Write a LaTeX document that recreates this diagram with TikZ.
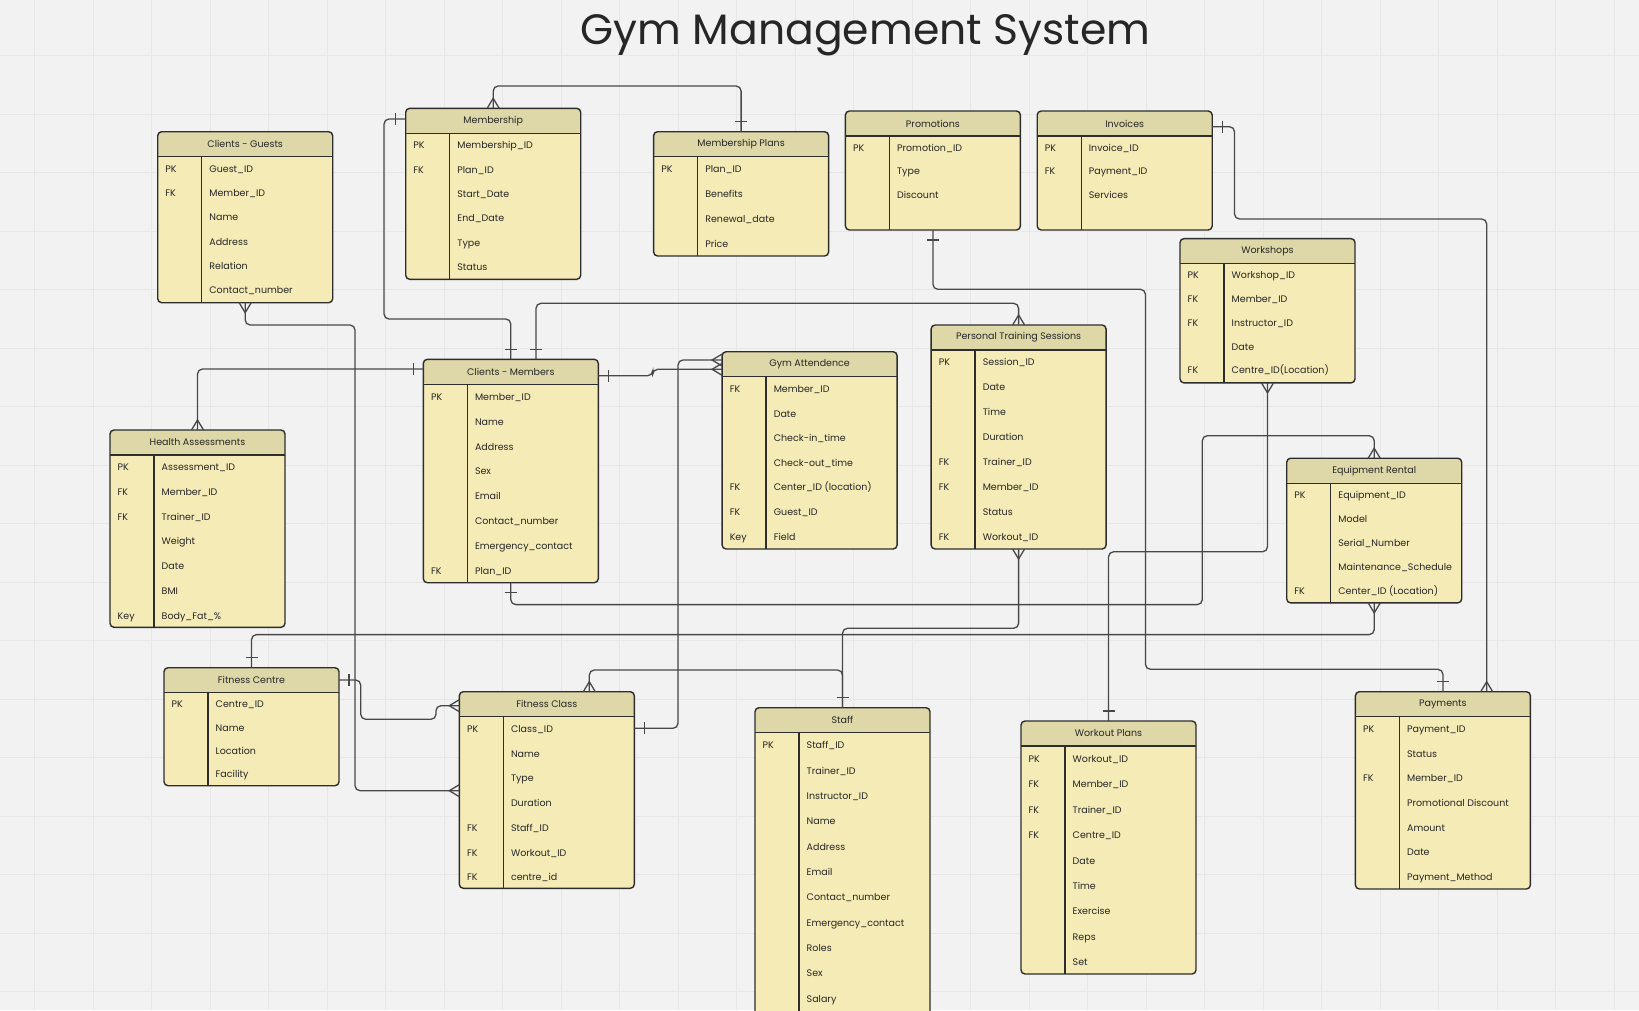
\documentclass[tikz,border=0pt]{standalone}
\usepackage{fontspec}
\setmainfont{Poppins}
\usetikzlibrary{calc}

\definecolor{bgc}{RGB}{242,242,242}
\definecolor{gridc}{RGB}{231,231,231}
\definecolor{headc}{RGB}{222,215,167}
\definecolor{bodyc}{RGB}{245,235,183}
\definecolor{edgec}{RGB}{45,45,45}
\definecolor{linkc}{RGB}{72,72,72}
\definecolor{inkc}{RGB}{38,38,38}

\tikzset{
  tablebox/.style={draw=edgec, line width=1.4pt, fill=bodyc, rounded corners=4pt,
    minimum width=175pt, inner sep=0pt, outer sep=0pt,
    path picture={\fill[headc] (path picture bounding box.north west)
      rectangle ([yshift=-25pt]path picture bounding box.north east);}},
  tablerule/.style={draw=edgec, line width=1.4pt},
  titletext/.style={font=\fontsize{9.5}{11}\selectfont, text=inkc, inner sep=0pt},
  keytext/.style={font=\fontsize{9.5}{11}\selectfont, text=inkc, anchor=base west, inner sep=0pt},
  fieldtext/.style={font=\fontsize{9.5}{11}\selectfont, text=inkc, anchor=base west, inner sep=0pt},
  linkline/.style={draw=linkc, line width=1.3pt, rounded corners=5pt},
  onebar/.pic={\draw[linkc, line width=1.3pt] (10,-6) -- (10,6);},
  crowfoot/.pic={\draw[linkc, line width=1.3pt] (0,-6) -- (10,0) -- (0,6);},
}

% one table: name, left, top, height, row step, title, key/field rows
\newcommand{\ertable}[7]{%
  \node[tablebox, minimum height=#4pt, anchor=north west] (#1) at (#2,#3) {};
  \draw[tablerule] ([yshift=-25pt]#1.north west) -- ([yshift=-25pt]#1.north east);
  \draw[tablerule] ([xshift=44pt,yshift=-25pt]#1.north west) -- ([xshift=44pt]#1.south west);
  \node[titletext] at ([yshift=-12.5pt]#1.north) {#6};
  \foreach \k/\f [count=\i] in {#7}
    {\node[keytext] at ([xshift=7.5pt,yshift={-28.5pt-(\i-0.5)*#5pt}]#1.north west) {\k};
     \node[fieldtext] at ([xshift=51.5pt,yshift={-28.5pt-(\i-0.5)*#5pt}]#1.north west) {\f};}
}

\begin{document}
\begin{tikzpicture}[x=1pt, y=-1pt]
  \useasboundingbox (0,0) rectangle (1639,1010);
  \clip (0,0) rectangle (1639,1010);

  % Background grid
  \fill[bgc] (0,0) rectangle (1639,1010);
  \foreach \gx in {0,...,28}
    \draw[gridc, line width=1pt] ({34.5+58.5*\gx},0) -- ({34.5+58.5*\gx},1010);
  \foreach \gy in {0,...,17}
    \draw[gridc, line width=1pt] (0,{55.8+58.5*\gy}) -- (1639,{55.8+58.5*\gy});

  % Title
  \node[font=\fontsize{42.5}{48}\selectfont, text=inkc, anchor=base] (title) at (865.5,44.5) {Gym Management System};

  % Tables
  \ertable{cg}{157.7}{131.7}{171}{24.3}{Clients - Guests}
    {PK/Guest\_ID, FK/Member\_ID, {}/Name, {}/Address, {}/Relation, {}/Contact\_number}
  \ertable{ms}{405.7}{108.3}{171}{24.3}{Membership}
    {PK/Membership\_ID, FK/Plan\_ID, {}/Start\_Date, {}/End\_Date, {}/Type, {}/Status}
  \ertable{mp}{653.6}{131.7}{124.3}{24.9}{Membership Plans}
    {PK/Plan\_ID, {}/Benefits, {}/Renewal\_date, {}/Price}
  \ertable{pr}{845.4}{111}{119}{23.5}{Promotions}
    {PK/Promotion\_ID, {}/Type, {}/Discount}
  \ertable{in}{1037.2}{111}{119}{23.5}{Invoices}
    {PK/Invoice\_ID, FK/Payment\_ID, {}/Services}
  \ertable{ws}{1180}{238.6}{144.3}{23.75}{Workshops}
    {PK/Workshop\_ID, FK/Member\_ID, FK/Instructor\_ID, {}/Date, FK/Centre\_ID(Location)}
  \ertable{er}{1286.7}{458.2}{144.7}{23.85}{Equipment Rental}
    {PK/Equipment\_ID, {}/Model, {}/Serial\_Number, {}/Maintenance\_Schedule, FK/Center\_ID (Location)}
  \ertable{cm}{423.3}{359.3}{223.4}{24.9}{Clients - Members}
    {PK/Member\_ID, {}/Name, {}/Address, {}/Sex, {}/Email, {}/Contact\_number, {}/Emergency\_contact, FK/Plan\_ID}
  \ertable{ha}{110}{430}{197.3}{24.7}{Health Assessments}
    {PK/Assessment\_ID, FK/Member\_ID, FK/Trainer\_ID, {}/Weight, {}/Date, {}/BMI, Key/Body\_Fat\_\%}
  \ertable{fc}{164}{667.7}{118}{23.3}{Fitness Centre}
    {PK/Centre\_ID, {}/Name, {}/Location, {}/Facility}
  \ertable{fcl}{459.3}{691.7}{196.6}{24.7}{Fitness Class}
    {PK/Class\_ID, {}/Name, {}/Type, {}/Duration, FK/Staff\_ID, FK/Workout\_ID, FK/centre\_id}
  \ertable{ga}{722.1}{351.7}{197.3}{24.6}{Gym Attendence}
    {FK/Member\_ID, {}/Date, {}/Check-in\_time, {}/Check-out\_time, FK/Center\_ID (location), FK/Guest\_ID, Key/Field}
  \ertable{pts}{931.1}{325}{224}{24.94}{Personal Training Sessions}
    {PK/Session\_ID, {}/Date, {}/Time, {}/Duration, FK/Trainer\_ID, FK/Member\_ID, {}/Status, FK/Workout\_ID}
  \ertable{st}{755}{707.7}{310}{25.33}{Staff}
    {PK/Staff\_ID, {}/Trainer\_ID, {}/Instructor\_ID, {}/Name, {}/Address, {}/Email, {}/Contact\_number, {}/Emergency\_contact, {}/Roles, {}/Sex, {}/Salary}
  \ertable{wp}{1021}{721}{253}{25.45}{Workout Plans}
    {PK/Workout\_ID, FK/Member\_ID, FK/Trainer\_ID, FK/Centre\_ID, {}/Date, {}/Time, {}/Exercise, {}/Reps, {}/Set}
  \ertable{py}{1355.4}{691.7}{197.3}{24.67}{Payments}
    {PK/Payment\_ID, {}/Status, FK/Member\_ID, {}/Promotional Discount, {}/Amount, {}/Date, {}/Payment\_Method}

  % Relationships
  \draw[linkline] (ms.north) -- ++(0,-22.3) -| (mp.north);
  \draw[linkline] ([yshift=-10.7pt]ms.north west) -- ++(-21.7,0) |- (510.8,319) -- (cm.north);
  \draw[linkline] ([xshift=25.2pt]cm.north) |- ([yshift=21.7pt]pts.north) -- (pts.north);
  \draw[linkline] ([yshift=-9.7pt]cm.north west) -| (ha.north);
  \draw[linkline] ([yshift=-16.4pt]cm.north east) -- (652.7,375.7) -- (652.7,369.3) -- ([yshift=-17.6pt]ga.north west);
  \draw[linkline] ([yshift=-36.6pt]fcl.north east) -| (678,360) -- ([yshift=-8.3pt]ga.north west);
  \draw[linkline] (cm.south) |- (1202.3,604.6) |- ([yshift=22.5pt]er.north) -- (er.north);
  \draw[linkline] (er.south) |- ([yshift=33.1pt]fc.north) -- (fc.north);
  \draw[linkline] (cg.south) |- (355,325) |- ([yshift=-99pt]fcl.north west);
  \draw[linkline] ([yshift=-12.3pt]fc.north east) -| (360.7,719.3) -| (436,705.7) -- ([yshift=-14pt]fcl.north west);
  \draw[linkline] ([xshift=42.5pt]fcl.north) |- ([yshift=37.7pt]st.north) -- (st.north);
  \draw[linkline] (pts.south) |- ([yshift=79.4pt]st.north) -- (st.north);
  \draw[linkline] (pr.south) |- (1145.4,289.3) |- ([yshift=22.4pt]py.north) -- (py.north);
  \draw[linkline] ([yshift=-15.7pt]in.north east) -| (1234.5,219) -| ([xshift=43.8pt]py.north);
  \draw[linkline] (ws.south) |- ([yshift=169.2pt]wp.north) -- (wp.north);

  % Cardinality marks
  \pic[rotate=90] at (ms.north) {crowfoot};
  \pic[rotate=90] at (mp.north) {onebar};
  \pic[rotate=180] at ([yshift=-10.7pt]ms.north west) {onebar};
  \pic[rotate=90] at (cm.north) {onebar};
  \pic[rotate=90] at ([xshift=25.2pt]cm.north) {onebar};
  \pic[rotate=90] at (pts.north) {crowfoot};
  \pic[rotate=180] at ([yshift=-9.7pt]cm.north west) {onebar};
  \pic[rotate=90] at (ha.north) {crowfoot};
  \pic at ([yshift=-16.4pt]cm.north east) {onebar};
  \pic[rotate=180] at ([yshift=-17.6pt]ga.north west) {crowfoot};
  \pic at ([yshift=-36.6pt]fcl.north east) {onebar};
  \pic[rotate=180] at ([yshift=-8.3pt]ga.north west) {crowfoot};
  \pic[rotate=-90] at (cm.south) {onebar};
  \pic[rotate=90] at (er.north) {crowfoot};
  \pic[rotate=-90] at (er.south) {crowfoot};
  \pic[rotate=90] at (fc.north) {onebar};
  \pic[rotate=-90] at (cg.south) {crowfoot};
  \pic[rotate=180] at ([yshift=-99pt]fcl.north west) {crowfoot};
  \pic at ([yshift=-12.3pt]fc.north east) {onebar};
  \pic[rotate=180] at ([yshift=-14pt]fcl.north west) {crowfoot};
  \pic[rotate=90] at ([xshift=42.5pt]fcl.north) {crowfoot};
  \pic[rotate=90] at (st.north) {onebar};
  \pic[rotate=-90] at (pts.south) {crowfoot};
  \pic[rotate=-90] at (pr.south) {onebar};
  \pic[rotate=90] at (py.north) {onebar};
  \pic at ([yshift=-15.7pt]in.north east) {onebar};
  \pic[rotate=90] at ([xshift=43.8pt]py.north) {crowfoot};
  \pic[rotate=-90] at (ws.south) {crowfoot};
  \pic[rotate=90] at (wp.north) {onebar};
\end{tikzpicture}
\end{document}
